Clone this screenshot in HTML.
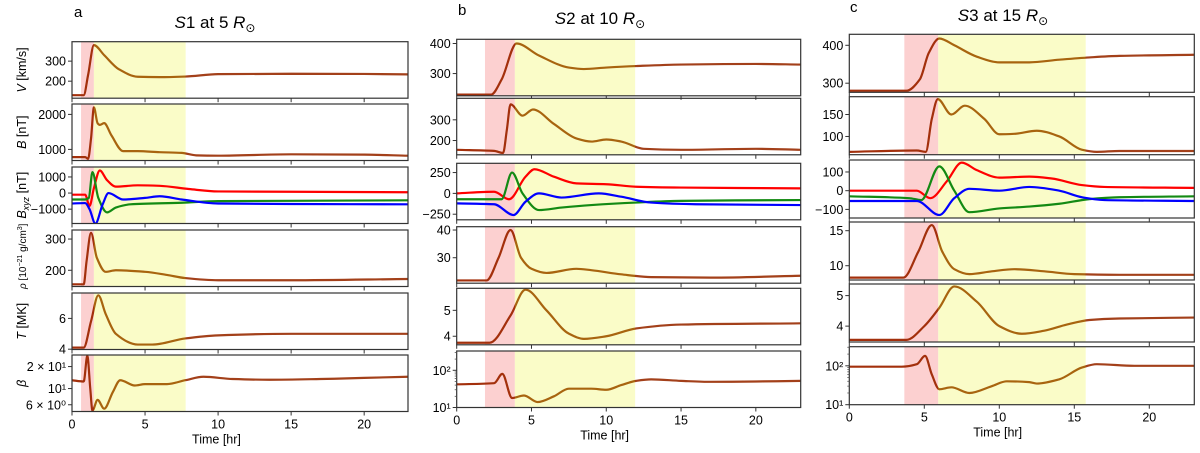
<!DOCTYPE html>
<html><head><meta charset="utf-8">
<style>
html,body{margin:0;padding:0;background:#fff;}
svg{display:block;font-family:"Liberation Sans","DejaVu Sans",sans-serif;}
</style></head>
<body>
<svg id="chart" width="1200" height="453" viewBox="0 0 1200 453" xmlns="http://www.w3.org/2000/svg"></svg>
<script>
// ---------- DATA (time [hr], value) ----------
// Column a : S1 at 5 Rsun
const a_V   = [[0,130],[0.8,130],[1.1,230],[1.5,380],[2.2,330],[3.2,260],[4.5,222],[6,220],[7.75,223],[10,235],[15,237],[20,236],[23,234]];
const a_B   = [[0,780],[0.9,780],[1.1,730],[1.3,1300],[1.5,2200],[1.75,1750],[1.9,1700],[2.2,1750],[2.7,1400],[3.5,950],[4.5,950],[6,920],[7.5,900],[8.5,830],[10,820],[15,860],[20,850],[23,820]];
const a_Bx  = [[0,-100],[0.9,-100],[1.2,-800],[1.5,300],[1.9,1400],[2.4,800],[3,400],[4.5,480],[6,450],[8,250],[10,100],[15,80],[23,50]];
const a_By  = [[0,-400],[0.9,-400],[1.15,-300],[1.4,1300],[1.8,-300],[2.4,-1200],[3,-900],[4,-700],[7.5,-600],[10,-500],[15,-480],[23,-450]];
const a_Bz  = [[0,-650],[0.9,-620],[1.2,-1000],[1.6,-1900],[2.1,-700],[2.5,0],[3.5,-400],[5,-300],[6,-200],[7.5,-400],[10,-650],[15,-680],[23,-700]];
const a_rho = [[0,155],[0.8,155],[1.0,230],[1.3,320],[1.7,240],[2.3,195],[3,200],[5,195],[6.5,185],[7.75,175],[10,168],[15,168],[23,172]];
const a_T   = [[0,4.1],[0.8,4.1],[1.3,5.8],[1.8,7.5],[2.3,6.3],[3,5.0],[4.5,4.3],[5.5,4.3],[7.75,4.7],[10,4.9],[15,5.0],[23,5.0]];
const a_beta= [[0,13],[0.8,12.5],[1.05,28],[1.25,10],[1.4,5],[1.75,7],[2.2,5.3],[2.8,9],[3.3,13],[4.3,11],[5,11.5],[6.5,11.5],[7.75,13],[9,14.5],[11,13.5],[13.5,13.2],[17,13.5],[20,14],[23,14.5]];
// Column b : S2 at 10 Rsun
const b_V   = [[0,230],[2.3,230],[3,280],[4,400],[5.5,360],[7.5,320],[8.5,315],[10,320],[12,325],[15,330],[20,332],[23,330]];
const b_B   = [[0,155],[2.5,150],[3.1,140],[3.35,250],[3.6,375],[4.4,320],[5.1,350],[6.5,280],[8,210],[9,195],[10,205],[11,195],[12.5,160],[15,155],[20,160],[23,155]];
const b_Bx  = [[0,0],[2.5,20],[3.5,-70],[4.6,200],[5.2,290],[6.5,200],[8,120],[10,110],[12,80],[15,70],[23,60]];
const b_By  = [[0,-70],[3,-70],[3.7,250],[4.4,0],[5.5,-200],[7,-170],[9,-140],[12,-110],[15,-90],[23,-80]];
const b_Bz  = [[0,-120],[2.5,-130],[3.8,-260],[4.6,-100],[5.5,0],[7,-50],[9.5,0],[11,-40],[13,-110],[16,-130],[23,-140]];
const b_rho = [[0,21.8],[2,21.8],[2.8,30],[3.6,40],[4.3,30],[5,26],[6,24.5],[8,26],[9,25.5],[11,24],[13,23],[17,22.8],[23,23.5]];
const b_T   = [[0,3.75],[2.2,3.75],[3.6,4.8],[4.6,5.8],[6,5.0],[7.5,4.1],[8.5,3.9],[10,4.0],[12,4.3],[15,4.45],[23,4.5]];
const b_beta= [[0,42],[2.5,45],[3.05,80],[3.7,18],[4.5,21],[5.4,14],[6.5,20],[7.5,32],[9,32],[10,30],[11,40],[12,52],[13,57],[15,52],[17,49],[20,50],[23,52]];
// Column c : S3 at 15 Rsun
const c_V   = [[0,280],[3.8,280],[4.7,310],[5.3,380],[6,418],[7,400],[8.5,370],[10,355],[12,355],[14,362],[16,368],[18,372],[23,375]];
const c_B   = [[0,65],[4.5,68],[5.1,65],[5.5,140],[5.9,185],[6.8,150],[7.7,170],[9,140],[10,105],[11,106],[12.5,113],[14,100],[15.5,70],[16.5,65],[18,67],[23,67]];
const c_Bx  = [[0,0],[4.5,0],[5.4,-40],[6.5,50],[7.5,150],[8.5,110],[10,70],[12,75],[13.5,65],[15.5,30],[17,20],[23,15]];
const c_By  = [[0,-30],[4,-40],[4.8,-50],[6,130],[7,0],[8,-115],[10,-95],[12,-85],[14,-70],[16,-45],[18,-35],[23,-30]];
const c_Bz  = [[0,-55],[4.5,-55],[6,-130],[7,-40],[8,10],[10,0],[12,20],[14,0],[15.5,-35],[17,-50],[23,-55]];
const c_rho = [[0,8.3],[3.6,8.3],[4.6,12],[5.5,15.8],[6.2,12],[7,9.5],[8,8.8],[9.5,9.2],[11,9.5],[13,9.2],[15,8.8],[18,8.7],[23,8.7]];
const c_T   = [[0,3.55],[3.8,3.55],[5,4.0],[6,4.6],[7,5.3],[8.5,4.8],[10,4.0],[11.5,3.75],[13,3.85],[14.5,4.05],[16,4.2],[18,4.25],[23,4.28]];
const c_beta= [[0,95],[3.5,95],[4.5,110],[5.05,180],[5.5,60],[6,25],[6.8,28],[8,20],[9.5,30],[10.5,40],[12,38],[12.5,35],[14,45],[15.5,90],[16.5,110],[19,100],[23,100]];

// shading intervals [redStart, redEnd/yellowStart, yellowEnd]
const shadeA = [0.62, 1.5, 7.78];
const shadeB = [1.89, 3.89, 11.93];
const shadeC = [3.67, 5.93, 15.76];

// y domains [min,max] per panel
const domA = [[115,397],[683,2297],[-1890,1618],[148,329],[3.98,7.65],[4.85,28.8]];
const domB = [[226,414],[131,404],[-317,361],[20.8,41.2],[3.67,5.85],[10,330]];
const domC = [[276,429],[58.5,190.5],[-146,164],[7.96,16.24],[3.48,5.38],[10,310]];

// tick values
const ticksA = [[200,300],[1000,2000],[-1000,0,1000],[200,300],[4,6],[6,10,20]];
const ticksB = [[300,400],[200,300],[-250,0,250],[30,40],[4,5],[10,100]];
const ticksC = [[300,400],[100,150],[-100,0,100],[10,15],[4,5],[10,100]];
const tickLabelsA = [["200","300"],["1000","2000"],["\u22121000","0","1000"],["200","300"],["4","6"],["6 \u00d7 10\u2070","10\u00b9","2 \u00d7 10\u00b9"]];
const tickLabelsB = [["300","400"],["200","300"],["\u2212250","0","250"],["30","40"],["4","5"],["10\u00b9","10\u00b2"]];
const tickLabelsC = [["300","400"],["100","150"],["\u2212100","0","100"],["10","15"],["4","5"],["10\u00b9","10\u00b2"]];
const xTicks = [0,5,10,15,20];
const xMax = 23;

// ---------- LAYOUT ----------
const NS = "http://www.w3.org/2000/svg";
const svg = document.getElementById('chart');
function mk(tag, attrs, parent){ const e=document.createElementNS(NS,tag); for(const k in attrs) e.setAttribute(k,attrs[k]); (parent||svg).appendChild(e); return e; }

const cols = [
  {key:'a', x0:72, w:336, tops:[41.7,104,167,230,293,355], h:56.5, shade:shadeA, dom:domA, ticks:ticksA, tl:tickLabelsA,
   series:[[a_V],[a_B],[a_Bx,a_By,a_Bz],[a_rho],[a_T],[a_beta]], letter:'a', lx:74, ly:17, tx:215, ty:28, num:'1', rad:'5'},
  {key:'b', x0:456.7, w:344, tops:[39.3,98.3,163.3,226.7,288.3,351], h:56.5, shade:shadeB, dom:domB, ticks:ticksB, tl:tickLabelsB,
   series:[[b_V],[b_B],[b_Bx,b_By,b_Bz],[b_rho],[b_T],[b_beta]], letter:'b', lx:458, ly:15, tx:600, ty:24, num:'2', rad:'10'},
  {key:'c', x0:849.3, w:345, tops:[34.3,96.7,160,222,284,346.7], h:58, shade:shadeC, dom:domC, ticks:ticksC, tl:tickLabelsC,
   series:[[c_V],[c_B],[c_Bx,c_By,c_Bz],[c_rho],[c_T],[c_beta]], letter:'c', lx:850, ly:12, tx:1003, ty:21, num:'3', rad:'15'}
];
const xyzColors = ["#ff0000","#138a13","#0000ff"];

// monotone cubic (Fritsch-Carlson) -> no overshoot
function monotone(pts){
  const n=pts.length, dx=[], m=[], t=[];
  for(let i=0;i<n-1;i++){ dx[i]=pts[i+1][0]-pts[i][0]; m[i]=(pts[i+1][1]-pts[i][1])/dx[i]; }
  t[0]=m[0]; t[n-1]=m[n-2];
  for(let i=1;i<n-1;i++){
    if(m[i-1]*m[i]<=0) t[i]=0;
    else { const w1=2*dx[i]+dx[i-1], w2=dx[i]+2*dx[i-1]; t[i]=(w1+w2)/(w1/m[i-1]+w2/m[i]); }
  }
  let d="M"+pts[0][0].toFixed(2)+","+pts[0][1].toFixed(2);
  for(let i=0;i<n-1;i++){
    const h=dx[i]/3;
    d+=" C"+(pts[i][0]+h).toFixed(2)+","+(pts[i][1]+t[i]*h).toFixed(2)+" "+(pts[i+1][0]-h).toFixed(2)+","+(pts[i+1][1]-t[i+1]*h).toFixed(2)+" "+pts[i+1][0].toFixed(2)+","+pts[i+1][1].toFixed(2);
  }
  return d;
}

cols.forEach((col,ci)=>{
  const xs = t => col.x0 + t/xMax*col.w;
  const defs = mk('defs',{});
  const g = mk('linearGradient',{id:'grad'+col.key, gradientUnits:'userSpaceOnUse', x1:col.x0, y1:0, x2:col.x0+col.w, y2:0}, defs);
  const f = v => ((xs(v)-col.x0)/col.w).toFixed(4);
  [[0,'#a3300c'],[f(col.shade[1]),'#a3300c'],[f(col.shade[1]),'#a8640f'],[f(col.shade[2]),'#a8640f'],[f(col.shade[2]),'#a3401a'],[1,'#a3401a']]
    .forEach(s=>mk('stop',{offset:s[0],'stop-color':s[1]},g));

  const letter = mk('text',{x:col.lx,y:col.ly,'font-size':15,fill:'#000'});
  letter.textContent = col.letter;
  
  
  const title = mk('text',{x:col.tx,y:col.ty,'font-size':17,'text-anchor':'middle',fill:'#000'});
  
  
  title.innerHTML = '<tspan font-style="italic">S</tspan>'+col.num+' at '+col.rad+' <tspan font-style="italic">R</tspan><tspan font-size="12" dy="4">\u2299</tspan>';

  col.tops.forEach((top,pi)=>{
    const h = col.h, bot = top+h;
    const [d0,d1] = col.dom[pi];
    const isLog = pi===5;
    const ys = v => isLog ? bot - (Math.log10(v)-Math.log10(d0))/(Math.log10(d1)-Math.log10(d0))*h
                          : bot - (v-d0)/(d1-d0)*h;
    const grp = mk('g',{});
    
    
    const clipId = 'clip'+col.key+pi;
    const cp = mk('clipPath',{id:clipId},grp);
    mk('rect',{x:col.x0,y:top,width:col.w,height:h},cp);
    const r1 = mk('rect',{x:xs(col.shade[0]),y:top,width:xs(col.shade[1])-xs(col.shade[0]),height:h,fill:'#fcd0d0'},grp);
    
    
    const r2 = mk('rect',{x:xs(col.shade[1]),y:top,width:xs(col.shade[2])-xs(col.shade[1]),height:h,fill:'#fafcc8'},grp);
    
    
    const ser = col.series[pi];
    ser.forEach((s,si)=>{
      const pts = s.map(p=>[xs(p[0]),ys(p[1])]);
      const color = ser.length>1 ? xyzColors[si] : 'url(#grad'+col.key+')';
      const p = mk('path',{d:monotone(pts),fill:'none',stroke:color,'stroke-width':2.2,'clip-path':'url(#'+clipId+')','stroke-linejoin':'round'},grp);
      
      
    });
    const fr = mk('rect',{x:col.x0,y:top,width:col.w,height:h,fill:'none',stroke:'#333','stroke-width':1.2},grp);
    
    
    col.ticks[pi].forEach((tv,ti)=>{
      const y = ys(tv);
      mk('line',{x1:col.x0-4,x2:col.x0,y1:y,y2:y,stroke:'#333','stroke-width':1},grp);
      const t = mk('text',{x:col.x0-6,y:y+4.5,'font-size':12.5,'text-anchor':'end',fill:'#000'},grp);
      t.textContent = col.tl[pi][ti];
      
      
    });
    if(isLog){
      [20,30,40,50,60,70,80,90,200,300].forEach(m=>{
        if(m>d0 && m<d1 && col.ticks[pi].indexOf(m)<0){ const y=ys(m); mk('line',{x1:col.x0-2,x2:col.x0,y1:y,y2:y,stroke:'#555','stroke-width':0.8},grp); }
      });
    }
    xTicks.forEach(xv=>{
      const x = xs(xv);
      mk('line',{x1:x,x2:x,y1:bot,y2:bot+4,stroke:'#333','stroke-width':1},grp);
      if(pi===5){
        const t = mk('text',{x:x,y:bot+17,'font-size':12.5,'text-anchor':'middle',fill:'#000'},grp);
        t.textContent = String(xv);
        
        
      }
    });
    if(pi===5){
      const xl = mk('text',{x:col.x0+col.w*0.43,y:bot+32,'font-size':12.5,'text-anchor':'middle',fill:'#000'});
      xl.textContent = 'Time [hr]';
      
      
    }
    if(ci===0){
      const cy = top+h/2;
      const yl = mk('text',{x:0,y:0,'font-size':12.5,'text-anchor':'middle',fill:'#000',transform:'translate(26,'+cy+') rotate(-90)'});
      
      
      if(pi===0) yl.innerHTML='<tspan font-style="italic">V</tspan> [km/s]';
      else if(pi===1) yl.innerHTML='<tspan font-style="italic">B</tspan> [nT]';
      else if(pi===2) yl.innerHTML='<tspan font-style="italic">B</tspan><tspan font-style="italic" font-size="9" dy="3">xyz</tspan><tspan dy="-3"> [nT]</tspan>';
      else if(pi===3){ yl.setAttribute('font-size','10'); yl.setAttribute('transform','translate(26,'+(cy-2)+') rotate(-90)'); yl.innerHTML='<tspan font-style="italic">\u03c1</tspan> [10<tspan font-size="7" dy="-4">\u221221</tspan><tspan dy="4"> g/cm</tspan><tspan font-size="7" dy="-4">3</tspan><tspan dy="4">]</tspan>'; }
      else if(pi===4) yl.innerHTML='<tspan font-style="italic">T</tspan> [MK]';
      else yl.innerHTML='<tspan font-style="italic">\u03b2</tspan>';
    }
  });
});
</script>
</body></html>
